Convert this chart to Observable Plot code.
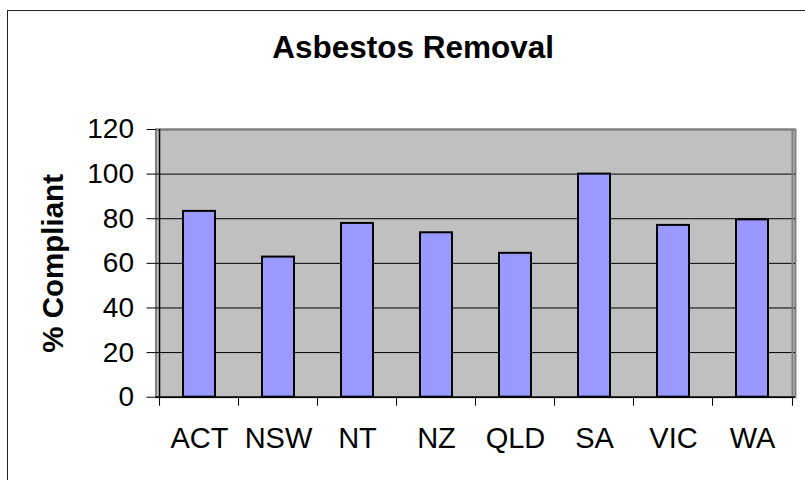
<!DOCTYPE html>
<html>
<head>
<meta charset="utf-8">
<script src="https://cdn.jsdelivr.net/npm/d3@7"></script>
<script src="https://cdn.jsdelivr.net/npm/@observablehq/plot@0.6"></script>
<style>
  html, body { margin: 0; padding: 0; background: #fff; overflow: hidden; }
  #wrap { position: relative; width: 805px; height: 480px; overflow: hidden; }
  #border { position: absolute; left: 7px; top: 10px; width: 798px; height: 470px; border-left: 1px solid #222; border-top: 1px solid #222; box-sizing: border-box; pointer-events: none; }
  svg { display: block; }
</style>
</head>
<body>
<div id="wrap"><div id="chart"></div><div id="border"></div></div>
<script>
const categories = ["ACT", "NSW", "NT", "NZ", "QLD", "SA", "VIC", "WA"];
const values = [83.3, 62.8, 77.9, 73.7, 64.5, 100, 77, 79.5];
const yTicks = [0, 20, 40, 60, 80, 100, 120];
const title = "Asbestos Removal";
const yTitle = "% Compliant";

const data = categories.map((c, i) => ({category: c, value: values[i]}));

const W = 805, H = 480;
const mL = 155.5, mR = 10, mT = 129, mB = 83.3;
const step = (W - mL - mR) / categories.length;
const font = "'Liberation Sans', Arial, Helvetica, sans-serif";

const chart = Plot.plot({
  width: W,
  height: H,
  marginLeft: mL,
  marginRight: mR,
  marginTop: mT,
  marginBottom: mB,
  style: {fontFamily: font, color: "black", background: "white"},
  x: {domain: categories, paddingInner: 0.6, paddingOuter: 0.3, axis: null},
  y: {domain: [0, 120], axis: null},
  marks: [
    Plot.frame({fill: "#C0C0C0", stroke: "#808080", strokeWidth: 2}),
    Plot.gridY(yTicks, {stroke: "black", strokeOpacity: 1, strokeWidth: 1}),
    Plot.ruleY([120], {stroke: "#808080", strokeWidth: 2}),
    Plot.ruleX([categories[categories.length - 1]], {y1: 0, y2: 120, dx: step / 2, stroke: "#808080", strokeWidth: 2}),
    Plot.barY(data, {x: "category", y: "value", fill: "#9999FF", stroke: "black", strokeWidth: 2}),
    Plot.ruleY([0], {stroke: "black", strokeWidth: 1.5}),
    Plot.ruleX([categories[0]], {y1: 0, y2: 120, dx: -step / 2, stroke: "black", strokeWidth: 1.5}),
    Plot.ruleX(categories, {x: d => d, y1: 0, y2: 0, insetBottom: -9, dx: -step / 2, stroke: "black", strokeWidth: 1}),
    Plot.ruleX([categories[categories.length - 1]], {y1: 0, y2: 0, insetBottom: -9, dx: step / 2, stroke: "black", strokeWidth: 1}),
    Plot.axisY({ticks: yTicks, tickSize: 9, tickPadding: 13, fontSize: 28, label: null, stroke: "black"}),
    Plot.axisX({tickSize: 0, tickPadding: 30, fontSize: 29, label: null}),
    Plot.text([title], {frameAnchor: "top", textAnchor: "middle", lineAnchor: "bottom", dx: -62.7, dy: -71.7, fontSize: 31.5, fontWeight: "bold", fill: "black"}),
    Plot.text([yTitle], {frameAnchor: "left", textAnchor: "middle", lineAnchor: "bottom", rotate: -90, dx: -93, fontSize: 29.5, fontWeight: "bold", fill: "black"})
  ]
});
document.getElementById("chart").appendChild(chart);
</script>
</body>
</html>
